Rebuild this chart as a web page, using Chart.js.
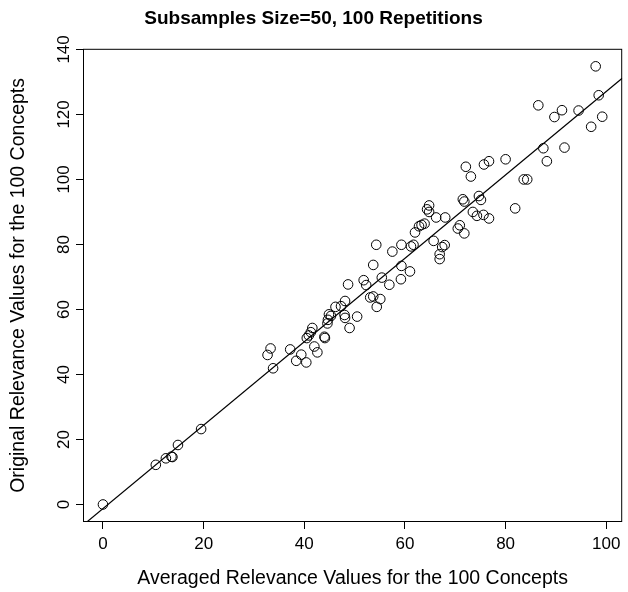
<!DOCTYPE html>
<html>
<head>
<meta charset="utf-8">
<script src="https://cdn.jsdelivr.net/npm/chart.js@4.4.1/dist/chart.umd.min.js"></script>
<style>
  html, body { margin: 0; padding: 0; background: #fff; }
</style>
</head>
<body>
<canvas id="chart" width="628" height="592"></canvas>
<script>
// averaged relevance (x) vs original relevance (y), one entry per concept
const averaged = [
  0, 10.5, 12.5, 13.6, 13.8, 14.9, 19.5,
  32.7, 33.3, 33.8, 37.2, 38.4, 39.4, 40.4,
  40.5, 40.9, 41.3, 41.6, 42.0, 42.6, 44.0, 44.1, 44.6, 44.7,
  44.9, 45.3, 46.2, 47.3, 48.1, 48.0, 48.1, 49.0, 50.5, 48.7,
  54.3, 57.5, 59.3, 61.2, 61.7, 62.0, 62.8, 63.3, 63.9, 65.7,
  67.4, 67.9, 66.9, 66.9, 53.7, 59.3, 61.0, 59.2, 55.4, 56.9,
  51.8, 52.3, 53.1, 53.7, 55.1, 54.4,
  72.1, 73.1, 75.7, 76.7, 80.0, 83.6, 84.3, 81.9, 71.5, 71.8,
  74.7, 75.1, 73.5, 74.3, 75.6, 76.7, 64.8, 64.4, 64.8, 66.2,
  68.0, 70.9, 70.5, 71.8,
  97.9, 98.5, 99.2, 97.0, 94.5, 91.2, 89.7, 86.5, 91.7, 87.5, 88.2
];
const original = [
  0, 12.2, 14.2, 14.7, 14.6, 18.3, 23.2,
  46.0, 48.0, 41.9, 47.7, 44.2, 46.1, 43.7,
  51.2, 52.0, 53.0, 54.3, 48.6, 46.8, 51.6, 51.2, 55.7, 56.8,
  58.5, 58.0, 60.8, 61.0, 62.6, 58.3, 57.4, 54.3, 57.8, 67.7,
  79.9, 77.8, 79.9, 79.4, 79.9, 83.7, 85.6, 86.0, 86.4, 81.1,
  79.2, 79.8, 77.0, 75.5, 73.7, 73.4, 71.7, 69.3, 69.8, 67.6,
  69.0, 67.5, 63.7, 64.0, 63.2, 60.8,
  103.9, 100.9, 104.6, 105.6, 106.2, 100.0, 100.0, 91.1, 93.9, 93.2,
  94.9, 93.7, 90.0, 88.8, 89.1, 88.0, 92.0, 90.8, 90.0, 88.3,
  88.3, 85.9, 84.9, 83.4,
  134.8, 125.9, 119.3, 116.2, 121.2, 121.3, 119.2, 122.8, 109.8, 109.6, 105.6
];

const xTicks = [0, 20, 40, 60, 80, 100];
const yTicks = [0, 20, 40, 60, 80, 100, 120, 140];

const chartTitle = "Subsamples Size=50, 100 Repetitions";
const xTitle = "Averaged Relevance Values for the 100 Concepts";
const yTitle = "Original Relevance Values for the 100 Concepts";

const FONT = '"Liberation Sans", Arial, Helvetica, sans-serif';

// R-style axis range: data range stretched by 4% on each side
function rRange(vals) {
  const lo = Math.min(...vals), hi = Math.max(...vals);
  const pad = (hi - lo) * 0.04;
  return [lo - pad, hi + pad];
}
const [xMin, xMax] = rRange(averaged);
const [yMin, yMax] = rRange(original);

// least squares fit, like abline(lm(y ~ x))
function fitLine(xs, ys) {
  const n = xs.length;
  const mx = xs.reduce((a, b) => a + b, 0) / n;
  const my = ys.reduce((a, b) => a + b, 0) / n;
  let sxy = 0, sxx = 0;
  for (let i = 0; i < n; i++) {
    sxy += (xs[i] - mx) * (ys[i] - my);
    sxx += (xs[i] - mx) * (xs[i] - mx);
  }
  const slope = sxy / sxx;
  return { slope, intercept: my - slope * mx };
}
const fit = fitLine(averaged, original);

const points = averaged.map((x, i) => ({ x, y: original[i] }));
const fitPoints = [xMin, xMax].map((x) => ({ x, y: fit.intercept + fit.slope * x }));

const boxAndYLabels = {
  id: "boxAndYLabels",
  afterDraw(chart) {
    const { ctx, chartArea: a, scales } = chart;
    ctx.save();
    ctx.strokeStyle = "#000";
    ctx.lineWidth = 1;
    ctx.strokeRect(a.left + 0.5, a.top + 0.5, a.right - a.left - 1, a.bottom - a.top - 1);

    // y tick labels run along the axis, as in R
    ctx.font = "17px " + FONT;
    ctx.fillStyle = "#000";
    ctx.textAlign = "center";
    ctx.textBaseline = "middle";
    yTicks.forEach((v) => {
      const y = scales.y.getPixelForValue(v);
      ctx.save();
      ctx.translate(a.left - 19, y);
      ctx.rotate(-Math.PI / 2);
      ctx.fillText(String(v), 0, 0);
      ctx.restore();
    });
    ctx.restore();
  },
};

new Chart(document.getElementById("chart"), {
  type: "scatter",
  data: {
    datasets: [
      {
        data: points,
        pointRadius: 4.8,
        pointHoverRadius: 4.8,
        borderWidth: 1,
        borderColor: "#000",
        backgroundColor: "rgba(0,0,0,0)",
      },
      {
        data: fitPoints,
        showLine: true,
        pointRadius: 0,
        borderWidth: 1.2,
        borderColor: "#000",
        fill: false,
      },
    ],
  },
  options: {
    responsive: false,
    animation: false,
    layout: { padding: { left: 0, right: 1, top: 0, bottom: 0 } },
    plugins: {
      legend: { display: false },
      tooltip: { enabled: false },
      title: {
        display: true,
        text: chartTitle,
        color: "#000",
        font: { family: FONT, size: 19, weight: "bold" },
        padding: { top: 7, bottom: 19 },
      },
    },
    scales: {
      x: {
        type: "linear",
        min: xMin,
        max: xMax,
        afterBuildTicks: (s) => { s.ticks = xTicks.map((v) => ({ value: v })); },
        afterFit: (s) => { s.height = 70; },
        grid: { drawOnChartArea: false, drawTicks: true, tickLength: 7, color: "#000", tickWidth: 1 },
        border: { display: false },
        ticks: { color: "#000", font: { family: FONT, size: 17 }, padding: 5, maxRotation: 0 },
        title: {
          display: true,
          text: xTitle,
          color: "#000",
          font: { family: FONT, size: 19.5 },
          padding: { top: 0, bottom: 2 },
        },
      },
      y: {
        type: "linear",
        min: yMin,
        max: yMax,
        afterBuildTicks: (s) => { s.ticks = yTicks.map((v) => ({ value: v })); },
        afterFit: (s) => { s.width = 83; },
        grid: { drawOnChartArea: false, drawTicks: true, tickLength: 7, color: "#000", tickWidth: 1 },
        border: { display: false },
        ticks: { color: "rgba(0,0,0,0)", font: { family: FONT, size: 17 } },
        title: {
          display: true,
          text: yTitle,
          color: "#000",
          font: { family: FONT, size: 19.5 },
          padding: { top: 7, bottom: 0 },
        },
      },
    },
  },
  plugins: [boxAndYLabels],
});
</script>
</body>
</html>
